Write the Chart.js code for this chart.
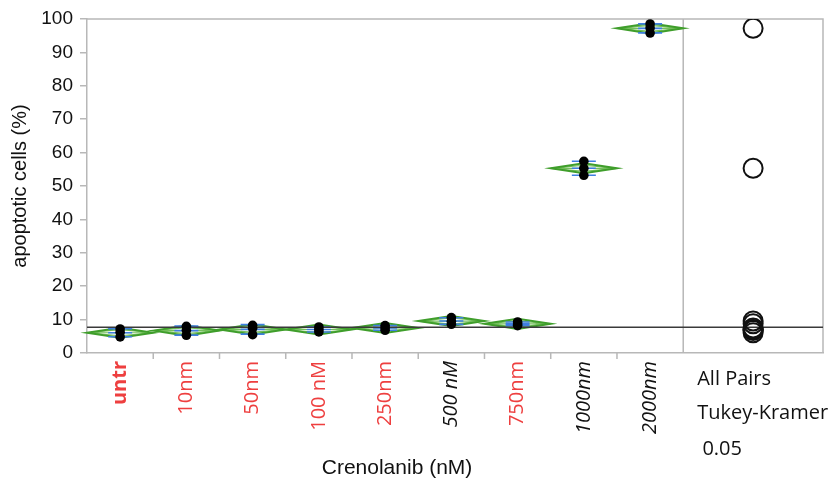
<!DOCTYPE html>
<html>
<head>
<meta charset="utf-8">
<script src="https://cdn.jsdelivr.net/npm/chart.js@4.4.1/dist/chart.umd.min.js"></script>
<style>
    html, body { margin: 0; padding: 0; background: #fff; }
    #wrap { width: 838px; height: 484px; position: relative; }
</style>
</head>
<body>
<div id="wrap"><canvas id="apoptosisChart"></canvas></div>
<script>
// Crenolanib dose groups
const categories = ['untr', '10nm', '50nm', '100 nM', '250nm', '500 nM', '750nm', '1000nm', '2000nm'];
const labelColors = ['#ee3f3f', '#ee3f3f', '#ee3f3f', '#ee3f3f', '#ee3f3f', '#111111', '#ee3f3f', '#111111', '#111111'];
const labelWeights = ['bold', 'normal', 'normal', 'normal', 'normal', 'normal', 'normal', 'normal', 'normal'];
const labelStyles = ['normal', 'normal', 'normal', 'normal', 'normal', 'italic', 'normal', 'italic', 'italic'];

// apoptotic cells (%), three replicates per group
const rep1 = [4.8, 5.3, 5.5, 6.3, 6.8, 8.6, 8.2, 53.2, 95.8];
const rep2 = [6.2, 6.8, 7.4, 7.0, 7.5, 9.5, 8.7, 55.3, 97.3];
const rep3 = [7.2, 8.0, 8.3, 7.8, 8.2, 10.6, 9.3, 57.4, 98.5];

const yTicks = [0, 10, 20, 30, 40, 50, 60, 70, 80, 90, 100];
const referenceLevel = 7.7;
const compareText = ['All Pairs', 'Tukey-Kramer', ' 0.05'];
const xTitle = 'Crenolanib (nM)';
const yTitle = 'apoptotic cells (%)';

// width of the comparison circles panel, in category units
const panelUnits = 2.11;
const circleX = 8.5 + panelUnits / 2;
const tCrit = 2.101; // t(0.975, df = 18)

// group statistics
const reps = [rep1, rep2, rep3];
const means = categories.map((c, i) => reps.reduce((s, r) => s + r[i], 0) / reps.length);
const sds = categories.map((c, i) => {
    const ss = reps.reduce((s, r) => s + Math.pow(r[i] - means[i], 2), 0);
    return Math.sqrt(ss / (reps.length - 1));
});
const pooledSd = Math.sqrt(sds.reduce((s, v) => s + v * v, 0) / sds.length);
const ciHalf = tCrit * pooledSd / Math.sqrt(reps.length);

const gray = '#b8b8b8';

const anovaMarks = {
    id: 'anovaMarks',
    beforeDatasetsDraw(chart) {
        const { ctx, chartArea: a, scales: { x, y } } = chart;
        ctx.save();

        // frame and panel divider
        ctx.strokeStyle = gray;
        ctx.lineWidth = 1.5;
        ctx.beginPath();
        ctx.moveTo(a.left, a.top);
        ctx.lineTo(a.right, a.top);
        ctx.lineTo(a.right, a.bottom);
        ctx.moveTo(x.getPixelForValue(8.5), a.top);
        ctx.lineTo(x.getPixelForValue(8.5), a.bottom);
        // tick marks between groups
        for (let i = 0; i < categories.length - 1; i++) {
            const px = x.getPixelForValue(i + 0.5);
            ctx.moveTo(px, a.bottom);
            ctx.lineTo(px, a.bottom + 6);
        }
        ctx.stroke();

        // means diamonds
        means.forEach((m, i) => {
            const l = x.getPixelForValue(i - 0.5);
            const r = x.getPixelForValue(i + 0.5);
            const c = x.getPixelForValue(i);
            const ym = y.getPixelForValue(m);
            const yt = y.getPixelForValue(m + ciHalf);
            const yb = y.getPixelForValue(m - ciHalf);
            const yt2 = y.getPixelForValue(m + ciHalf * 0.6);
            const yb2 = y.getPixelForValue(m - ciHalf * 0.6);

            ctx.strokeStyle = '#74bf5c';
            ctx.lineWidth = 1.2;
            ctx.beginPath();
            ctx.moveTo(l, ym); ctx.lineTo(c, yt2); ctx.lineTo(r, ym); ctx.lineTo(c, yb2); ctx.closePath();
            ctx.moveTo(l, ym); ctx.lineTo(r, ym);
            ctx.stroke();

            ctx.strokeStyle = '#3f9e2b';
            ctx.lineWidth = 2;
            ctx.beginPath();
            ctx.moveTo(l, ym); ctx.lineTo(c, yt); ctx.lineTo(r, ym); ctx.lineTo(c, yb); ctx.closePath();
            ctx.stroke();

            // std dev lines
            const half = 12;
            ctx.strokeStyle = '#3f7fe0';
            ctx.lineWidth = 1.6;
            ctx.beginPath();
            [m - sds[i], m, m + sds[i]].forEach(v => {
                const py = y.getPixelForValue(v);
                ctx.moveTo(c - half, py);
                ctx.lineTo(c + half, py);
            });
            ctx.moveTo(c, y.getPixelForValue(m - sds[i]));
            ctx.lineTo(c, y.getPixelForValue(m + sds[i]));
            ctx.stroke();
        });

        // grand reference line
        ctx.strokeStyle = '#3a3a3a';
        ctx.lineWidth = 1.5;
        ctx.beginPath();
        ctx.moveTo(a.left, y.getPixelForValue(referenceLevel));
        ctx.lineTo(a.right, y.getPixelForValue(referenceLevel));
        ctx.stroke();
        ctx.restore();
    },
    afterDraw(chart) {
        const { ctx, chartArea: a, scales: { x } } = chart;
        ctx.save();
        ctx.fillStyle = '#111';
        ctx.textBaseline = 'alphabetic';
        ctx.textAlign = 'left';
        ctx.font = '20px "Open Sans"';
        const tx = x.getPixelForValue(8.5) + 14;
        [32, 66, 102].forEach((dy, k) => ctx.fillText(compareText[k], tx, a.bottom + dy));

        ctx.textAlign = 'center';
        ctx.font = '21px "Liberation Sans"';
        ctx.fillText(xTitle, x.getPixelForValue(4.18), a.bottom + 121);
        ctx.restore();
    }
};

const pointData = reps.map(r => r.map((v, i) => ({ x: i, y: v })));

new Chart(document.getElementById('apoptosisChart'), {
    type: 'scatter',
    data: {
        datasets: [
            ...pointData.map((d, k) => ({
                label: 'rep ' + (k + 1),
                data: d,
                pointRadius: 4.8,
                pointBorderWidth: 0,
                backgroundColor: '#000',
                borderColor: '#000'
            })),
            {
                label: 'comparison circles',
                data: means.map(m => ({ x: circleX, y: m })),
                pointRadius: 9.5,
                pointBorderWidth: 2,
                backgroundColor: 'rgba(0,0,0,0)',
                borderColor: '#111'
            }
        ]
    },
    options: {
        responsive: true,
        maintainAspectRatio: false,
        animation: false,
        events: [],
        layout: { padding: { left: 0, right: 15, top: 19, bottom: 0 } },
        plugins: {
            legend: { display: false },
            tooltip: { enabled: false }
        },
        scales: {
            x: {
                type: 'linear',
                min: -0.5,
                max: 8.5 + panelUnits,
                afterBuildTicks: (scale) => {
                    scale.ticks = categories.map((c, i) => ({ value: i }));
                },
                afterFit: (scale) => { scale.height = 131; },
                grid: { display: false, drawTicks: false },
                border: { display: true, color: gray, width: 1.5 },
                ticks: {
                    autoSkip: false,
                    minRotation: 90,
                    maxRotation: 90,
                    padding: 8,
                    callback: (v, i) => categories[i],
                    color: (c) => labelColors[c.index],
                    font: (c) => ({
                        family: 'Open Sans',
                        size: 20,
                        weight: labelWeights[c.index],
                        style: labelStyles[c.index]
                    })
                }
            },
            y: {
                min: 0,
                max: 100,
                afterBuildTicks: (scale) => {
                    scale.ticks = yTicks.map(v => ({ value: v }));
                },
                afterFit: (scale) => { scale.width = 87; },
                grid: { drawOnChartArea: false, drawTicks: true, tickLength: 7, color: gray, lineWidth: 1.5 },
                border: { display: true, color: gray, width: 1.5 },
                ticks: {
                    padding: 7,
                    color: '#111',
                    font: { family: 'Liberation Sans', size: 19 }
                },
                title: {
                    display: true,
                    text: yTitle,
                    color: '#111',
                    font: { family: 'Liberation Sans', size: 20 },
                    padding: { top: 8, bottom: 0 }
                }
            }
        }
    },
    plugins: [anovaMarks]
});
</script>
</body>
</html>
